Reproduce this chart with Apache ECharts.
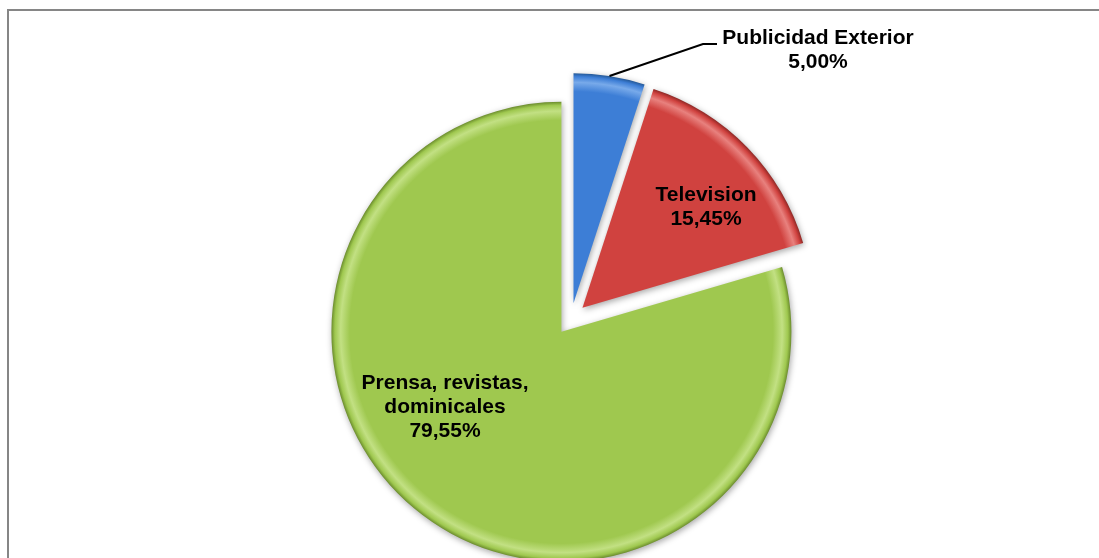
<!DOCTYPE html>
<html>
<head>
<meta charset="utf-8">
<script src="https://cdn.jsdelivr.net/npm/echarts@6/dist/echarts.min.js"></script>
<style>html,body{margin:0;padding:0;background:#fff}#c{width:1099px;height:558px}</style>
</head>
<body>
<div id="c"></div>
<script>
const categories = ['Publicidad Exterior', 'Television', 'Prensa, revistas,\ndominicales'];
const values = [5.00, 15.45, 79.55];
const valueLabels = ['5,00%', '15,45%', '79,55%'];
const baseColors = ['#3d7ed6', '#d0423f', '#9fc84f'];
const lightColors = ['#78aaea', '#e8817e', '#c2e083'];
const darkColors = ['#235795', '#8f2825', '#6b8c2d'];

const CX = 571, CY = 319, R = 230, OFFSET = 16;

function fill(i) {
  return {
    type: 'radial', x: CX, y: CY, r: R, global: true,
    colorStops: [
      {offset: 0, color: baseColors[i]},
      {offset: 0.92, color: baseColors[i]},
      {offset: 0.96, color: lightColors[i]},
      {offset: 0.985, color: baseColors[i]},
      {offset: 1, color: darkColors[i]}
    ]
  };
}

// label anchor points (text layout only)
const labelPos = [[818, 50], [706, 207], [445, 407]];

const chart = echarts.init(document.getElementById('c'), null, {renderer: 'canvas'});
chart.setOption({
  animation: false,
  backgroundColor: '#ffffff',
  series: [{
    type: 'pie',
    center: [CX, CY],
    radius: [0, R],
    startAngle: 90,
    clockwise: true,
    selectedMode: 'multiple',
    selectedOffset: OFFSET,
    z: 2,
    label: {show: false},
    labelLine: {show: false},
    emphasis: {disabled: true},
    data: categories.map((c, i) => ({
      name: c,
      value: values[i],
      selected: true,
      itemStyle: {
        color: fill(i),
        shadowBlur: 6,
        shadowColor: 'rgba(0,0,0,0.35)',
        shadowOffsetX: 1,
        shadowOffsetY: 2
      }
    }))
  }]
});

// leader line for the outside label, anchored to the pie's own layout
const layout = chart.getModel().getSeriesByIndex(0).getData().getItemLayout(0);
const mid = (layout.startAngle + layout.endAngle) / 2;
const ox = CX + Math.cos(mid) * OFFSET, oy = CY + Math.sin(mid) * OFFSET;
const p0 = [ox + Math.cos(mid) * R, oy + Math.sin(mid) * R];

const textEls = categories.map((c, i) => ({
  type: 'text',
  x: labelPos[i][0],
  y: labelPos[i][1],
  z: 20,
  style: {
    text: c + '\n' + valueLabels[i],
    fontFamily: '"Liberation Sans", Arial, sans-serif',
    fontWeight: 'bold',
    fontSize: 21,
    lineHeight: 24,
    fill: '#000',
    align: 'center',
    verticalAlign: 'middle'
  }
}));

chart.setOption({
  graphic: [{
    type: 'rect', shape: {x: 8, y: 10, width: 1200, height: 700},
    style: {fill: 'none', stroke: '#868686', lineWidth: 2}, z: 0
  }, {
    type: 'polyline',
    shape: {points: [p0, [703, 44], [717, 44]]},
    style: {stroke: '#000', lineWidth: 2, fill: 'none'},
    z: 10
  }].concat(textEls)
});
</script>
</body>
</html>
